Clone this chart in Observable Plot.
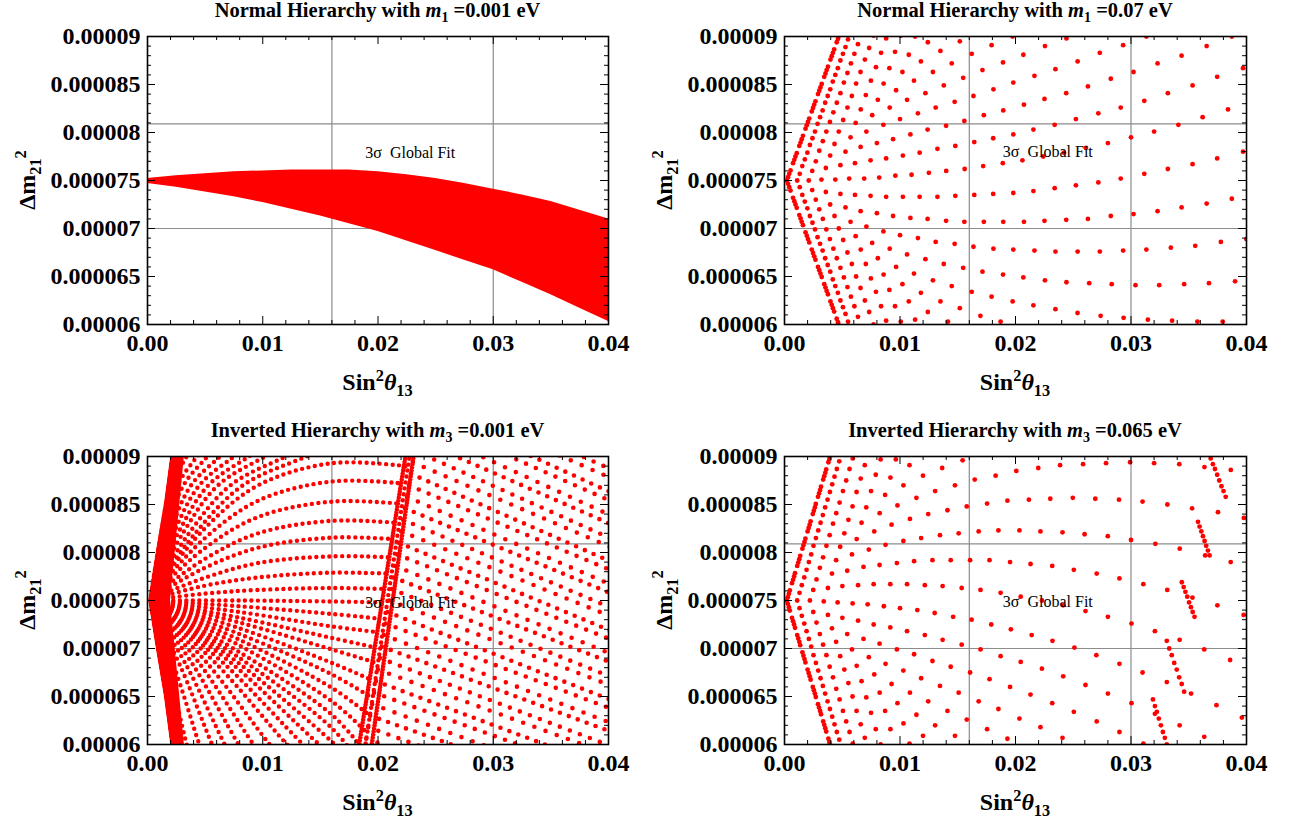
<!DOCTYPE html>
<html><head><meta charset="utf-8">
<script src="https://cdn.jsdelivr.net/npm/d3@7"></script>
<script src="https://cdn.jsdelivr.net/npm/@observablehq/plot@0.6"></script>
<style>
html,body{margin:0;padding:0;background:#fff;}
#wrap{position:relative;width:1289px;height:822px;overflow:hidden;font-family:"Liberation Serif","Times New Roman",serif;font-weight:bold;color:#000;}
.panel{position:absolute;}
.title{position:absolute;font-size:20.5px;text-align:center;white-space:nowrap;line-height:20px;width:500px;}
.xt{position:absolute;font-size:24px;text-align:center;white-space:nowrap;line-height:24px;width:300px;}
.yt{position:absolute;font-size:24px;white-space:nowrap;transform:rotate(-90deg);line-height:24px;text-align:center;width:140px;height:24px;}
sub,sup{font-size:0.68em;line-height:0;}
</style></head>
<body><div id="wrap"></div>
<script>
// ---- axes (x in units of 1e-3, y in units of 1e-5) ----
const xTicks = [0, 10, 20, 30, 40];
const xTickLabels = ["0.00", "0.01", "0.02", "0.03", "0.04"];
const yTicks = [6, 6.5, 7, 7.5, 8, 8.5, 9];
const yTickLabels = ["0.00006", "0.000065", "0.00007", "0.000075", "0.00008", "0.000085", "0.00009"];
const sigmaX = [16, 30];       // 3 sigma range of sin^2 theta13
const sigmaY = [7.0, 8.09];    // 3 sigma range of dm21^2
const fitLabel = "3σ  Global Fit";
const titles = [
  ["Normal Hierarchy with ", "m", "1", " =0.001 eV"],
  ["Normal Hierarchy with ", "m", "1", " =0.07 eV"],
  ["Inverted Hierarchy with ", "m", "3", " =0.001 eV"],
  ["Inverted Hierarchy with ", "m", "3", " =0.065 eV"]
];

// ---- panel 1: NH m1 = 0.001 eV, filled band ----
const nh1X  = [0, 2.5, 5, 7.5, 10, 12.5, 15, 17.5, 20, 22.5, 25, 27.5, 30, 32.5, 35, 37.5, 40];
const nh1Hi = [7.52, 7.55, 7.57, 7.59, 7.60, 7.61, 7.61, 7.61, 7.59, 7.56, 7.52, 7.47, 7.41, 7.35, 7.28, 7.19, 7.10];
const nh1Lo = [7.47, 7.43, 7.38, 7.33, 7.27, 7.20, 7.13, 7.05, 6.97, 6.87, 6.77, 6.67, 6.57, 6.44, 6.31, 6.17, 6.03];

// ---- panel 2: NH m1 = 0.07 eV, scan points ----
const nh2Points = [
  [0.2,7.5],[0.31,7.535],[0.31,7.465],[0.41,7.57],[0.41,7.43],[0.52,7.605],[0.52,7.395],
  [0.74,7.68],[0.74,7.32],[0.85,7.715],[0.85,7.285],[0.95,7.75],[0.95,7.25],[1.06,7.785],[1.06,7.215],
  [1.28,7.86],[1.28,7.14],[1.39,7.895],[1.39,7.105],[1.49,7.93],[1.49,7.07],[1.6,7.965],[1.6,7.035],
  [1.82,8.04],[1.82,6.96],[1.93,8.075],[1.93,6.925],[2.03,8.11],[2.03,6.89],[2.14,8.145],[2.14,6.855],
  [2.36,8.22],[2.36,6.78],[2.47,8.255],[2.47,6.745],[2.57,8.29],[2.57,6.71],[2.68,8.325],[2.68,6.675],
  [2.9,8.4],[2.9,6.6],[3.01,8.435],[3.01,6.565],[3.11,8.47],[3.11,6.53],[3.22,8.505],[3.22,6.495],
  [3.44,8.58],[3.44,6.42],[3.55,8.615],[3.55,6.385],[3.65,8.65],[3.65,6.35],[3.76,8.685],[3.76,6.315],
  [3.98,8.76],[3.98,6.24],[4.09,8.795],[4.09,6.205],[4.19,8.83],[4.19,6.17],[4.3,8.865],[4.3,6.135],
  [4.52,8.94],[4.52,6.06],[4.63,8.975],[4.63,6.025],[4.73,9.01],[4.73,5.99],
  [1.1,7.5],[1.32,7.57],[1.32,7.43],[1.54,7.65],[1.54,7.35],[1.76,7.72],[1.76,7.28],[1.98,7.79],[1.98,7.21],[2.2,7.87],[2.2,7.13],
  [2.42,7.94],[2.42,7.06],[2.64,8.01],[2.64,6.99],[2.86,8.09],[2.86,6.91],[3.08,8.16],[3.08,6.84],[3.3,8.23],[3.3,6.77],[3.52,8.31],[3.52,6.69],
  [3.74,8.38],[3.74,6.62],[3.96,8.45],[3.96,6.55],[4.18,8.53],[4.18,6.47],[4.4,8.6],[4.4,6.4],[4.62,8.67],[4.62,6.33],[4.84,8.75],[4.84,6.25],
  [5.06,8.82],[5.06,6.18],[5.28,8.89],[5.28,6.11],[5.5,8.97],[5.5,6.03],
  [2.1,7.5],[2.4,7.6],[2.4,7.4],[2.71,7.7],[2.71,7.3],[3.01,7.81],[3.01,7.2],[3.32,7.91],[3.32,7.1],[3.62,8.01],[3.62,6.99],[3.93,8.11],[3.93,6.89],
  [4.23,8.21],[4.23,6.79],[4.53,8.31],[4.53,6.69],[4.84,8.41],[4.84,6.59],[5.14,8.52],[5.14,6.49],[5.45,8.62],[5.45,6.39],[5.75,8.72],[5.75,6.29],
  [6.05,8.82],[6.05,6.19],[6.36,8.92],[6.36,6.08],[6.66,9.02],[6.66,5.98],
  [3.2,7.51],[3.58,7.63],[3.58,7.38],[3.95,7.76],[3.95,7.25],[4.33,7.88],[4.33,7.13],[4.7,8.01],[4.7,7.0],[5.08,8.13],[5.08,6.88],
  [5.45,8.26],[5.45,6.75],[5.83,8.38],[5.83,6.63],[6.2,8.51],[6.2,6.5],[6.58,8.63],[6.58,6.38],[6.96,8.76],[6.96,6.25],[7.33,8.88],[7.33,6.13],[7.71,9.01],[7.71,6.0],
  [4.4,7.51],[4.84,7.66],[4.84,7.36],[5.28,7.8],[5.28,7.22],[5.72,7.95],[5.72,7.07],[6.16,8.1],[6.16,6.92],[6.6,8.24],[6.6,6.78],
  [7.04,8.39],[7.04,6.63],[7.48,8.54],[7.48,6.48],[7.92,8.68],[7.92,6.34],[8.36,8.83],[8.36,6.19],[8.8,8.98],[8.8,6.04],
  [5.6,7.52],[6.1,7.68],[6.1,7.35],[6.59,7.85],[6.59,7.18],[7.09,8.01],[7.09,7.02],[7.59,8.18],[7.59,6.85],[8.08,8.34],[8.08,6.69],
  [8.58,8.51],[8.58,6.52],[9.08,8.67],[9.08,6.36],[9.57,8.84],[9.57,6.19],[10.07,9.01],[10.07,6.03],
  [6.9,7.52],[7.45,7.71],[7.45,7.34],[8.0,7.89],[8.0,7.16],[8.56,8.08],[8.56,6.97],[9.11,8.26],[9.11,6.79],[9.66,8.44],[9.66,6.6],
  [10.21,8.63],[10.21,6.42],[10.76,8.81],[10.76,6.24],[11.31,9.0],[11.31,6.05],
  [8.2,7.53],[8.8,7.73],[8.8,7.33],[9.4,7.93],[9.4,7.13],[10.0,8.14],[10.0,6.93],[10.61,8.34],[10.61,6.73],[11.21,8.54],[11.21,6.53],
  [11.81,8.74],[11.81,6.33],[12.41,8.94],[12.41,6.13],
  [9.6,7.55],[10.25,7.76],[10.25,7.33],[10.9,7.98],[10.9,7.11],[11.55,8.2],[11.55,6.9],[12.2,8.41],[12.2,6.68],[12.85,8.63],[12.85,6.46],
  [13.5,8.85],[13.5,6.24],[14.15,6.03],
  [11.0,7.56],[11.7,7.79],[11.7,7.33],[12.39,8.03],[12.39,7.1],[13.09,8.26],[13.09,6.86],[13.79,8.49],[13.79,6.63],[14.48,8.72],[14.48,6.4],[15.18,8.95],[15.18,6.17],
  [12.5,7.58],[13.24,7.83],[13.24,7.33],[13.99,8.07],[13.99,7.08],[14.73,8.32],[14.73,6.84],[15.47,8.57],[15.47,6.59],[16.21,8.82],[16.21,6.34],[16.96,6.09],
  [14.0,7.6],[14.79,7.86],[14.79,7.34],[15.57,8.12],[15.57,7.07],[16.36,8.38],[16.36,6.81],[17.14,8.65],[17.14,6.55],[17.93,8.91],[17.93,6.29],[18.71,6.03],
  [15.6,7.62],[16.43,7.9],[16.43,7.35],[17.26,8.18],[17.26,7.07],[18.09,8.45],[18.09,6.79],[18.92,8.73],[18.92,6.52],[19.75,9.0],[19.75,6.24],
  [17.2,7.65],[18.07,7.94],[18.07,7.36],[18.94,8.23],[18.94,7.07],[19.81,8.52],[19.81,6.78],[20.68,8.81],[20.68,6.49],[21.55,6.2],
  [18.9,7.68],[19.81,7.98],[19.81,7.37],[20.73,8.29],[20.73,7.07],[21.64,8.59],[21.64,6.77],[22.55,8.9],[22.55,6.46],[23.46,6.16],
  [20.6,7.71],[21.55,8.03],[21.55,7.39],[22.51,8.35],[22.51,7.08],[23.46,8.66],[23.46,6.76],[24.41,8.98],[24.41,6.44],[25.37,6.12],
  [22.4,7.75],[23.39,8.08],[23.39,7.42],[24.39,8.41],[24.39,7.09],[25.38,8.74],[25.38,6.76],[26.38,6.43],[27.37,6.09],
  [24.2,7.79],[25.23,8.14],[25.23,7.45],[26.27,8.48],[26.27,7.1],[27.3,8.83],[27.3,6.76],[28.33,6.42],[29.36,6.07],
  [26.1,7.84],[27.17,8.2],[27.17,7.48],[28.25,8.56],[28.25,7.13],[29.32,8.91],[29.32,6.77],[30.39,6.41],[31.46,6.05],
  [28.0,7.89],[29.11,8.26],[29.11,7.52],[30.22,8.63],[30.22,7.15],[31.33,9.0],[31.33,6.78],[32.44,6.41],[33.56,6.04],
  [30.0,7.95],[31.15,8.33],[31.15,7.57],[32.3,8.72],[32.3,7.18],[33.45,6.8],[34.6,6.42],[35.75,6.03],
  [32.0,8.01],[33.19,8.41],[33.19,7.62],[34.38,8.8],[34.38,7.22],[35.56,6.82],[36.75,6.43],[37.94,6.03],
  [34.1,8.08],[35.33,8.49],[35.33,7.67],[36.55,8.9],[36.55,7.26],[37.78,6.86],[39.01,6.45],[40.23,6.04],
  [36.2,8.16],[37.46,8.58],[37.46,7.73],[38.73,9.0],[38.73,7.31],[39.99,6.89],
  [38.4,8.24],[39.7,8.67],[39.7,7.8]
];

// ---- panel 3: IH m3 = 0.001 eV (dense point rows, drawn as dotted rows) ----
const ih1CoreY = [6.0, 6.5, 7.0, 7.3, 7.5, 7.7, 8.0, 8.5, 9.0];
const ih1CoreL = [2.0, 1.45, 0.75, 0.35, 0.1, 0.35, 0.75, 1.45, 2.0];
const ih1CoreR = [3.2, 2.8, 2.4, 2.15, 2.0, 2.15, 2.4, 2.8, 3.2];
const ih1Rays = [
  [[0,7.5],[4.8,8.23],[9.6,8.70],[16,8.93],[22.4,8.90]],
  [[0,7.5],[4.8,8.13],[9.6,8.54],[16,8.74],[22.1,8.72]],
  [[0,7.5],[4.8,8.03],[9.6,8.37],[16,8.53],[21.8,8.51]],
  [[0,7.5],[4.8,7.92],[9.6,8.20],[16,8.33],[21.5,8.31]],
  [[0,7.5],[4.8,7.83],[9.6,8.05],[16,8.155],[21.3,8.14]],
  [[0,7.5],[4.8,7.73],[9.6,7.89],[16,7.96],[21.0,7.95]],
  [[0,7.5],[4.8,7.65],[9.6,7.74],[16,7.79],[20.8,7.78]],
  [[0,7.5],[4.8,7.57],[9.6,7.61],[16,7.63],[20.6,7.62]],
  [[0,7.5],[8,7.5],[16,7.49],[20.4,7.48]],
  [[0,7.5],[8,7.44],[16,7.36],[20.2,7.31]],
  [[0,7.5],[8,7.38],[16,7.23],[20.0,7.17]],
  [[0,7.5],[8,7.32],[16,7.11],[19.8,7.01]],
  [[0,7.5],[8,7.27],[16,6.99],[19.6,6.86]],
  [[0,7.5],[8,7.21],[16,6.85],[19.5,6.67]],
  [[0,7.5],[8,7.15],[16,6.73],[19.3,6.50]],
  [[0,7.5],[8,7.09],[16,6.59],[19.1,6.32]],
  [[0,7.5],[8,7.03],[16,6.45],[18.9,6.14]],
  [[0,7.5],[8,6.96],[16,6.31],[18.7,5.95]],
  [[0,7.5],[8,6.9],[16,6.17],[18.5,5.8]],
  [[0,7.5],[8,6.84],[16,6.03],[18,5.8]],
  [[0,7.5],[1.02,8.2],[2.04,8.7],[3.4,9],[4.42,9.2]],
  [[0,7.5],[1.29,8.2],[2.58,8.7],[4.3,9],[5.59,9.2]],
  [[0,7.5],[1.56,8.2],[3.12,8.7],[5.2,9],[6.76,9.2]],
  [[0,7.5],[1.89,8.2],[3.78,8.7],[6.3,9],[8.19,9.2]],
  [[0,7.5],[2.25,8.2],[4.5,8.7],[7.5,9],[9.75,9.2]],
  [[0,7.5],[2.64,8.2],[5.28,8.7],[8.8,9],[11.44,9.2]],
  [[0,7.5],[3.06,8.2],[6.12,8.7],[10.2,9],[13.26,9.2]],
  [[0,7.5],[3.6,8.2],[7.2,8.7],[12,9],[15.6,9.2]],
  [[0,7.5],[4.14,8.2],[8.28,8.7],[13.8,9],[17.94,9.2]],
  [[0,7.5],[1.7,6.83],[3.4,6],[4.08,5.7]],
  [[0,7.5],[2.25,6.83],[4.5,6],[5.4,5.7]],
  [[0,7.5],[2.8,6.83],[5.6,6],[6.72,5.7]],
  [[0,7.5],[3.35,6.83],[6.7,6],[8.04,5.7]],
  [[0,7.5],[3.95,6.83],[7.9,6],[9.48,5.7]],
  [[0,7.5],[4.6,6.83],[9.2,6],[11.04,5.7]],
  [[0,7.5],[5.3,6.83],[10.6,6],[12.72,5.7]],
  [[0,7.5],[6.05,6.83],[12.1,6],[14.52,5.7]],
  [[0,7.5],[6.75,6.83],[13.5,6],[16.2,5.7]],
  [[0,7.5],[7.45,6.83],[14.9,6],[17.88,5.7]]
];
const ih1Band = [
  [[18.3,5.95],[22.45,9.05]],
  [[19.4,5.95],[23.15,9.05]]
];
const ih1BandMid = [
  [[18.85,5.95],[22.8,9.05]]
];
const ih1Scatter = [
  [[23.5,9.9],[40.5,9.0]],[[23.5,9.78],[40.5,8.85]],[[23.5,9.66],[40.5,8.76]],[[23.5,9.54],[40.5,8.61]],[[23.5,9.42],[40.5,8.52]],
  [[23.5,9.3],[40.5,8.37]],[[23.35,9.18],[40.5,8.28]],[[23.18,9.06],[40.5,8.13]],[[23.02,8.94],[40.5,8.04]],[[22.85,8.82],[40.5,7.89]],
  [[22.68,8.70],[40.5,7.80]],[[22.51,8.58],[40.5,7.65]],[[22.34,8.46],[40.5,7.56]],[[22.18,8.34],[40.5,7.41]],[[22.01,8.22],[40.5,7.32]],
  [[21.84,8.10],[40.5,7.17]],[[21.67,7.98],[40.5,7.08]],[[21.5,7.86],[40.5,6.93]],[[21.34,7.74],[40.5,6.84]],[[21.17,7.62],[40.5,6.69]],
  [[21.0,7.50],[40.5,6.60]],[[20.83,7.38],[40.5,6.45]],[[20.66,7.26],[40.5,6.36]],[[20.5,7.14],[40.5,6.21]],[[20.33,7.02],[40.5,6.12]],
  [[20.16,6.90],[40.5,5.97]],[[19.99,6.78],[40.5,5.88]],[[19.82,6.66],[40.5,5.73]],[[19.66,6.54],[40.5,5.64]],[[19.49,6.42],[40.5,5.49]],
  [[19.32,6.30],[40.5,5.4]],[[19.15,6.18],[40.5,5.25]],[[18.98,6.06],[40.5,5.16]]
];

// ---- panel 4: IH m3 = 0.065 eV, scan points ----
const ih2Points = [
  [0.2,7.5],[0.29,7.535],[0.29,7.465],[0.38,7.57],[0.38,7.43],[0.46,7.605],[0.46,7.395],
  [0.65,7.68],[0.65,7.32],[0.74,7.715],[0.74,7.285],[0.83,7.75],[0.83,7.25],[0.91,7.785],[0.91,7.215],
  [1.1,7.86],[1.1,7.14],[1.19,7.895],[1.19,7.105],[1.28,7.93],[1.28,7.07],[1.36,7.965],[1.36,7.035],
  [1.55,8.04],[1.55,6.96],[1.64,8.075],[1.64,6.925],[1.73,8.11],[1.73,6.89],[1.81,8.145],[1.81,6.855],
  [2.0,8.22],[2.0,6.78],[2.09,8.255],[2.09,6.745],[2.18,8.29],[2.18,6.71],[2.26,8.325],[2.26,6.675],
  [2.45,8.4],[2.45,6.6],[2.54,8.435],[2.54,6.565],[2.63,8.47],[2.63,6.53],[2.71,8.505],[2.71,6.495],
  [2.9,8.58],[2.9,6.42],[2.99,8.615],[2.99,6.385],[3.08,8.65],[3.08,6.35],[3.16,8.685],[3.16,6.315],
  [3.35,8.76],[3.35,6.24],[3.44,8.795],[3.44,6.205],[3.53,8.83],[3.53,6.17],[3.61,8.865],[3.61,6.135],
  [3.8,8.94],[3.8,6.06],[3.89,8.975],[3.89,6.025],[3.98,9.01],[3.98,5.99],
  [1.1,7.5],[1.3,7.58],[1.3,7.42],[1.5,7.66],[1.5,7.34],[1.71,7.74],[1.71,7.26],[1.91,7.82],[1.91,7.18],[2.11,7.9],[2.11,7.1],
  [2.31,7.98],[2.31,7.02],[2.51,8.07],[2.51,6.93],[2.72,8.15],[2.72,6.85],[2.92,8.23],[2.92,6.77],[3.12,8.31],[3.12,6.69],[3.32,8.39],[3.32,6.61],
  [3.52,8.47],[3.52,6.53],[3.73,8.55],[3.73,6.45],[3.93,8.63],[3.93,6.37],[4.13,8.71],[4.13,6.29],[4.33,8.79],[4.33,6.21],[4.53,8.87],[4.53,6.13],
  [4.74,8.95],[4.74,6.05],
  [2.2,7.5],[2.49,7.61],[2.49,7.38],[2.77,7.72],[2.77,7.27],[3.06,7.84],[3.06,7.15],[3.34,7.95],[3.34,7.04],[3.63,8.07],[3.63,6.93],
  [3.91,8.18],[3.91,6.81],[4.2,8.3],[4.2,6.7],[4.48,8.41],[4.48,6.58],[4.77,8.52],[4.77,6.47],[5.06,8.64],[5.06,6.35],[5.34,8.75],[5.34,6.24],
  [5.63,8.87],[5.63,6.13],[5.91,8.98],[5.91,6.01],
  [3.4,7.49],[3.76,7.63],[3.76,7.35],[4.11,7.78],[4.11,7.21],[4.47,7.92],[4.47,7.07],[4.82,8.06],[4.82,6.92],[5.18,8.2],[5.18,6.78],
  [5.53,8.34],[5.53,6.64],[5.89,8.48],[5.89,6.5],[6.24,8.63],[6.24,6.35],[6.6,8.77],[6.6,6.21],[6.95,8.91],[6.95,6.07],
  [4.6,7.48],[5.01,7.65],[5.01,7.32],[5.43,7.81],[5.43,7.15],[5.84,7.98],[5.84,6.99],[6.25,8.14],[6.25,6.82],[6.67,8.31],[6.67,6.66],
  [7.08,8.47],[7.08,6.49],[7.49,8.64],[7.49,6.33],[7.9,8.81],[7.9,6.16],[8.32,8.97],[8.32,6.0],
  [5.9,7.47],[6.37,7.66],[6.37,7.29],[6.84,7.85],[6.84,7.1],[7.3,8.03],[7.3,6.91],[7.77,8.22],[7.77,6.73],[8.24,8.41],[8.24,6.54],
  [8.71,8.6],[8.71,6.35],[9.17,8.78],[9.17,6.16],[9.64,8.97],[9.64,5.98],
  [7.2,7.46],[7.72,7.67],[7.72,7.25],[8.23,7.87],[8.23,7.05],[8.75,8.08],[8.75,6.84],[9.27,8.29],[9.27,6.63],[9.78,8.49],[9.78,6.43],
  [10.3,8.7],[10.3,6.22],[10.82,8.91],[10.82,6.01],
  [8.6,7.44],[9.16,7.67],[9.16,7.22],[9.73,7.89],[9.73,6.99],[10.29,8.12],[10.29,6.77],[10.86,8.35],[10.86,6.54],[11.42,8.57],[11.42,6.31],
  [11.99,8.8],[11.99,6.09],[12.55,9.02],
  [10.0,7.42],[10.61,7.67],[10.61,7.18],[11.22,7.91],[11.22,6.94],[11.83,8.15],[11.83,6.69],[12.44,8.4],[12.44,6.45],[13.04,8.64],[13.04,6.2],[13.65,8.88],
  [11.5,7.4],[12.15,7.66],[12.15,7.14],[12.81,7.92],[12.81,6.87],[13.46,8.18],[13.46,6.61],[14.11,8.44],[14.11,6.35],[14.76,8.7],[14.76,6.09],[15.42,8.96],
  [13.0,7.37],[13.69,7.65],[13.69,7.09],[14.39,7.92],[14.39,6.81],[15.08,8.2],[15.08,6.54],[15.78,8.48],[15.78,6.26],[16.47,8.76],[16.47,5.98],
  [14.6,7.33],[15.34,7.63],[15.34,7.04],[16.07,7.92],[16.07,6.75],[16.81,8.22],[16.81,6.45],[17.54,8.51],[17.54,6.16],[18.28,8.8],
  [16.2,7.3],[16.97,7.61],[16.97,6.99],[17.75,7.92],[17.75,6.68],[18.52,8.23],[18.52,6.37],[19.3,8.54],[19.3,6.06],[20.07,8.85],
  [17.9,7.25],[18.71,7.58],[18.71,6.92],[19.53,7.9],[19.53,6.6],[20.34,8.23],[20.34,6.27],[21.16,8.55],[21.97,8.88],
  [19.6,7.2],[20.45,7.54],[20.45,6.86],[21.3,7.88],[21.3,6.52],[22.16,8.22],[22.16,6.18],[23.01,8.56],[23.86,8.91],
  [21.4,7.14],[22.29,7.5],[22.29,6.79],[23.18,7.86],[23.18,6.43],[24.07,8.21],[24.07,6.07],[24.96,8.57],[25.85,8.92],
  [23.2,7.08],[24.13,7.45],[24.13,6.71],[25.05,7.82],[25.05,6.34],[25.98,8.19],[26.91,8.56],[27.84,8.93],
  [25.1,7.01],[26.06,7.39],[26.06,6.62],[27.03,7.78],[27.03,6.24],[27.99,8.17],[28.96,8.55],[29.92,8.94],
  [27.0,6.93],[28.0,7.33],[28.0,6.53],[29.0,7.73],[29.0,6.13],[30.0,8.13],[31.0,8.53],[32.0,8.93],
  [29.0,6.84],[30.04,7.26],[30.04,6.43],[31.07,7.67],[31.07,6.01],[32.11,8.09],[33.15,8.5],[34.18,8.92],
  [31.0,6.75],[32.07,7.18],[32.07,6.32],[33.14,7.61],[34.22,8.04],[35.29,8.46],[36.36,8.89],
  [33.1,6.65],[34.21,7.09],[34.21,6.2],[35.32,7.53],[36.42,7.97],[37.53,8.42],[38.64,8.86],
  [35.2,6.53],[36.34,6.99],[36.34,6.08],[37.48,7.45],[38.63,7.9],[39.77,8.36],
  [37.4,6.41],[38.58,6.88],[39.75,7.35],
  [39.6,6.28],
  // dense slanted chains on the right
  [31.9,6.47],[32.07,6.4],[32.24,6.34],[32.41,6.27],[32.59,6.2],[32.76,6.13],[32.93,6.07],[33.1,6.0],
  [33.1,7.08],[33.31,7.0],[33.53,6.93],[33.74,6.85],[33.96,6.78],[34.17,6.7],[34.39,6.63],[34.6,6.55],
  [34.4,7.69],[34.56,7.64],[34.71,7.59],[34.87,7.54],[35.03,7.48],[35.19,7.43],[35.34,7.38],[35.5,7.33],
  [35.8,8.32],[35.94,8.27],[36.09,8.22],[36.23,8.17],[36.37,8.12],[36.51,8.07],[36.66,8.02],[36.8,7.97],
  [36.9,8.98],[37.09,8.92],[37.27,8.87],[37.46,8.81],[37.64,8.75],[37.83,8.69],[38.01,8.64],[38.2,8.58]
];

// ---- helpers ----
const rows = rays => rays.flatMap((r, k) => r.map(([x, y]) => ({x, y, k})));
const xMinor = d3.range(0, 40.01, 2).filter(v => v % 10 !== 0);
const yMinor = d3.range(6, 9.001, 0.1).map(v => +v.toFixed(2)).filter(v => Math.abs(v * 2 - Math.round(v * 2)) > 1e-6);
const RED = "#ff0000";

function dotted(data, width, gap, curve) {
  return Plot.line(rows(data), {x: "x", y: "y", z: "k", stroke: RED, strokeWidth: width,
    strokeLinecap: "round", strokeDasharray: `0 ${gap}`, curve: curve || "catmull-rom", clip: true});
}
function points(data) {
  return Plot.dot(data, {x: d => d[0], y: d => d[1], r: 2.4, fill: RED, stroke: "none", clip: true});
}

function makePanel(idx, left, top, mr, dataMarks, labelAt) {
  const ml = 147, mt = 36, mb = 86, W = 644, Hh = 410;
  const Wf = W - ml - mr, Hf = Hh - mt - mb;
  const grid = {stroke: "#8c8c8c", strokeWidth: 1.2};
  const tk = {stroke: "#000", strokeWidth: 1};
  const svg = Plot.plot({
    width: W, height: Hh, marginLeft: ml, marginRight: mr, marginTop: mt, marginBottom: mb,
    x: {domain: [0, 40]}, y: {domain: [6, 9]},
    style: {fontFamily: "'Liberation Serif', serif", fontSize: "24px", fontWeight: "bold", background: "transparent", color: "#000"},
    marks: [
      Plot.ruleX(sigmaX, grid),
      Plot.ruleY(sigmaY, grid),
      ...dataMarks,
      Plot.text([labelAt], {x: "x", y: "y", text: () => fitLabel, fontSize: 16, fontWeight: "normal", fill: "#000"}),
      Plot.ruleX(xMinor, {...tk, insetTop: Hf - 4}),
      Plot.ruleX(xMinor, {...tk, insetBottom: Hf - 4}),
      Plot.ruleX(xTicks, {...tk, insetTop: Hf - 8}),
      Plot.ruleX(xTicks, {...tk, insetBottom: Hf - 8}),
      Plot.ruleY(yMinor, {...tk, insetRight: Wf - 4}),
      Plot.ruleY(yMinor, {...tk, insetLeft: Wf - 4}),
      Plot.ruleY(yTicks, {...tk, insetRight: Wf - 8}),
      Plot.ruleY(yTicks, {...tk, insetLeft: Wf - 8}),
      Plot.frame({stroke: "#000", strokeWidth: 1.6}),
      Plot.axisX({ticks: xTicks, tickFormat: d => xTickLabels[xTicks.indexOf(d)], tickSize: 0, tickPadding: 9, label: null}),
      Plot.axisY({ticks: yTicks, tickFormat: d => yTickLabels[yTicks.indexOf(d)], tickSize: 0, tickPadding: 7, label: null})
    ]
  });
  const wrap = document.getElementById("wrap");
  const holder = document.createElement("div");
  holder.className = "panel";
  holder.style.left = left + "px"; holder.style.top = top + "px";
  holder.appendChild(svg);
  wrap.appendChild(holder);
  const cx = left + ml + Wf / 2;
  const t = titles[idx];
  const title = document.createElement("div");
  title.className = "title";
  title.style.left = (cx - 250) + "px"; title.style.top = (top) + "px";
  title.innerHTML = `${t[0]}<i>${t[1]}</i><sub>${t[2]}</sub>${t[3]}`;
  wrap.appendChild(title);
  const xt = document.createElement("div");
  xt.className = "xt";
  xt.style.left = (cx - 150) + "px"; xt.style.top = (top + 370) + "px";
  xt.innerHTML = `Sin<sup>2</sup><i>θ</i><sub>13</sub>`;
  wrap.appendChild(xt);
  const yt = document.createElement("div");
  yt.className = "yt";
  yt.style.left = (left + 27 - 70) + "px"; yt.style.top = (top + mt + Hf / 2 - 12) + "px";
  yt.innerHTML = `Δm<sub>21</sub><sup>2</sup>`;
  wrap.appendChild(yt);
}

const nh1Rows = nh1X.map((x, i) => ({x, lo: nh1Lo[i], hi: nh1Hi[i]}));
const ih1Core = ih1CoreY.map((y, i) => ({y, l: ih1CoreL[i], r: ih1CoreR[i]}));
const scatterA = ih1Scatter.filter((_, i) => i % 3 === 0);
const scatterB = ih1Scatter.filter((_, i) => i % 3 === 1);
const scatterC = ih1Scatter.filter((_, i) => i % 3 === 2);

makePanel(0, 0, 0, 36, [
  Plot.areaY(nh1Rows, {x: "x", y1: "lo", y2: "hi", fill: RED})
], {x: 22.8, y: 7.79});

makePanel(1, 637, 0, 35, [
  points(nh2Points)
], {x: 22.8, y: 7.8});

makePanel(2, 0, 420, 36, [
  dotted(ih1Rays, 4.4, 6.5),
  dotted(ih1Band, 4.6, 3, "linear"),
  dotted(ih1BandMid, 4.4, 6, "linear"),
  dotted(scatterA, 4.6, 9.5, "linear"),
  dotted(scatterB, 4.6, 10.7, "linear"),
  dotted(scatterC, 4.6, 11.9, "linear"),
  Plot.areaX(ih1Core, {y: "y", x1: "l", x2: "r", fill: RED, clip: true}),
  Plot.areaX(ih1Core, {y: "y", x1: () => -1, x2: "l", fill: "#fff", clip: true})
], {x: 22.8, y: 7.48});

makePanel(3, 637, 420, 35, [
  points(ih2Points)
], {x: 22.8, y: 7.49});
</script></body></html>
